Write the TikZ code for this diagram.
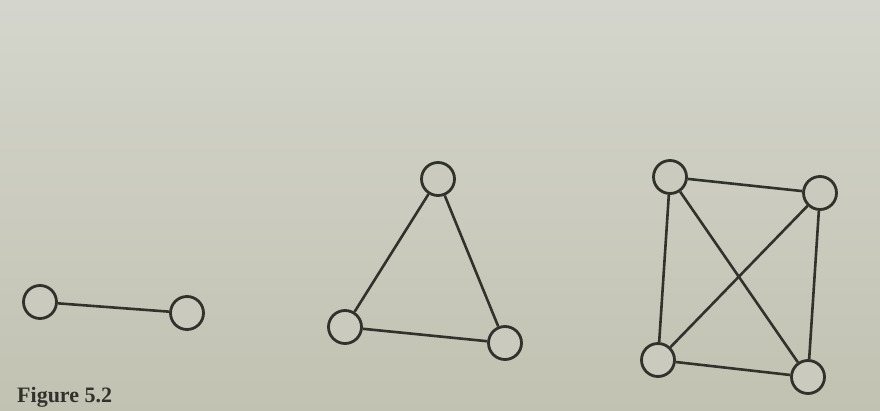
\documentclass[tikz,border=0pt]{standalone}
\usepackage{fontspec}
\setmainfont{Liberation Serif}
\definecolor{paper}{RGB}{202,203,190}
\definecolor{papertop}{RGB}{212,213,204}
\definecolor{paperbot}{RGB}{194,194,178}
\definecolor{ink}{RGB}{50,50,45}
\begin{document}
\begin{tikzpicture}[x=1pt,y=-1pt,
  vtx/.style={circle,draw=ink,line width=2.8pt,minimum size=33pt,inner sep=0pt,fill=paper},
  edge/.style={draw=ink,line width=2.6pt}]
\useasboundingbox (0,0) rectangle (880,411);
\shade[top color=papertop,bottom color=paperbot] (0,0) rectangle (880,411);
% K2
\node[vtx] (a1) at (40,302) {};
\node[vtx] (a2) at (187,313) {};
% K3
\node[vtx] (b1) at (438,179) {};
\node[vtx] (b2) at (345,327) {};
\node[vtx] (b3) at (505,343) {};
% K4
\node[vtx] (c1) at (670,177) {};
\node[vtx] (c2) at (820,193) {};
\node[vtx] (c3) at (658,360) {};
\node[vtx] (c4) at (808,377) {};
\draw[edge] (a1) -- (a2);
\draw[edge] (b1) -- (b2);
\draw[edge] (b1) -- (b3);
\draw[edge] (b2) -- (b3);
\draw[edge] (c1) -- (c2);
\draw[edge] (c1) -- (c3);
\draw[edge] (c1) -- (c4);
\draw[edge] (c2) -- (c3);
\draw[edge] (c2) -- (c4);
\draw[edge] (c3) -- (c4);
\node[anchor=south west,inner sep=0pt,text=ink,font=\fontsize{22}{22}\selectfont\bfseries] (cap) at (17,408) {Figure 5.2};
\end{tikzpicture}
\end{document}
